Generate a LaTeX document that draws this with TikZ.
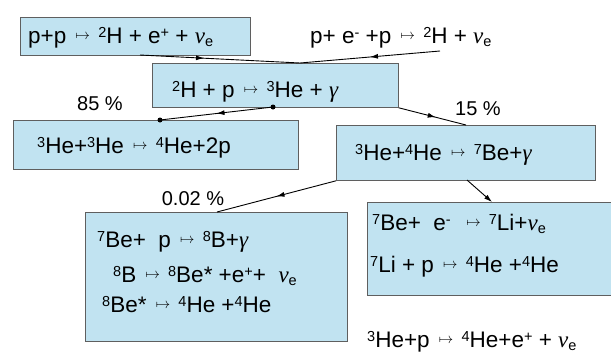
\documentclass[tikz,border=0pt]{standalone}
\usepackage{fontspec}
\setmainfont{Liberation Sans}
\newfontfamily\grk{Liberation Serif}
\usetikzlibrary{decorations.markings,arrows.meta}
\definecolor{boxfill}{RGB}{193,227,241}
\definecolor{boxline}{RGB}{95,95,95}
\newcommand{\us}[1]{\raisebox{5.5pt}{\fontsize{14.5}{15}\selectfont #1}}
\newcommand{\ds}[1]{\raisebox{-3pt}{\fontsize{14.5}{15}\selectfont #1}}
\newcommand{\nue}{{\grk\itshape\fontsize{23}{25}\selectfont ν}\ds{e}}
\newcommand{\gam}{{\grk\itshape\fontsize{23}{25}\selectfont γ}}
\newcommand{\mt}{\hspace{3pt}\raisebox{3.5pt}{$\scriptstyle\mapsto$}\hspace{2pt}}
\begin{document}
\begin{tikzpicture}[x=1pt,y=-1pt,
  font=\fontsize{22.5}{26}\selectfont,
  box/.style={draw=boxline, fill=boxfill, line width=0.8pt, inner sep=0, anchor=north west},
  txt/.style={anchor=base west, inner sep=0},
  lab/.style={anchor=base, inner sep=0, font=\fontsize{20}{22}\selectfont},
  conn/.style={line width=0.9pt},
  midarrow/.style={postaction={decorate}, decoration={markings, mark=at position #1 with {\arrow{Latex[length=8pt,width=5pt]}}}},
  dot/.style={circle, fill=black, inner sep=0, minimum size=5pt}]
\useasboundingbox (0,0) rectangle (611,354);
% boxes
\node[box, minimum width=230pt, minimum height=38pt] (box1) at (20,17) {};
\node[box, minimum width=246pt, minimum height=44pt] (box2) at (152,63) {};
\node[box, minimum width=285pt, minimum height=49pt] (box3) at (13,120) {};
\node[box, minimum width=259pt, minimum height=55pt] (box4) at (336,125) {};
\node[box, minimum width=262pt, minimum height=129pt] (box5) at (85,212) {};
\node[box, minimum width=250pt, minimum height=93pt] (box6) at (367,202) {};
% texts
\node[txt] (t1) at (28,43) {p+p \mt{} \us{2}H + e\us{+} + \nue};
\node[txt] (t2) at (310,43) {p+ e\us{-} +p \mt{} \us{2}H + \nue};
\node[txt] (t3) at (172,97) {\us{2}H + p \mt{} \us{3}He + \gam};
\node[txt] (t4) at (37,153) {\us{3}He+\us{3}He \mt{} \us{4}He+2p};
\node[txt] (t5) at (355,160) {\us{3}He+\us{4}He \mt{} \us{7}Be+\gam};
\node[txt] (t6) at (97,247) {\us{7}Be+\ \ p \mt{} \us{8}B+\gam};
\node[txt] (t7) at (113,282) {\us{8}B \mt{} \us{8}Be* +e\us{+}+\ \ \nue};
\node[txt] (t8) at (102,312) {\us{8}Be* \mt{} \us{4}He +\us{4}He};
\node[txt] (t9) at (372,230) {\us{7}Be+\ \ e\us{-} \ \mt{} \us{7}Li+\nue};
\node[txt] (t10) at (370,272) {\us{7}Li + p \mt{} \us{4}He +\us{4}He};
\node[txt] (t11) at (367,347) {\us{3}He+p \mt{} \us{4}He+e\us{+} + \nue};
% labels
\node[lab] (l85) at (100,110) {85 \%};
\node[lab] (l15) at (478,115) {15 \%};
\node[lab] (l002) at (193,205) {0.02 \%};
% connector points
\coordinate (a1) at (140,55);
\coordinate (a2) at (440,51);
\coordinate (j) at (300,63);
\node[dot] (d1) at (273,107) {};
\node[dot] (d2) at (160,120) {};
\coordinate (c1) at (466,125);
\coordinate (e1) at (217,212);
\coordinate (f0) at (467,180);
\coordinate (f1) at (492,202);
% connectors
\draw[conn, midarrow=0.4] (a1) -- (j);
\draw[conn, midarrow=0.5] (a2) -- (j);
\draw[conn, midarrow=0.5] (d1.center) -- (d2.center);
\draw[conn, midarrow=0.55] (box2.south east) -- (c1);
\draw[conn, midarrow=0.5] (box4.south west) -- (e1);
\draw[conn, -{Latex[length=8pt,width=5pt]}] (f0) -- (f1);
\end{tikzpicture}
\end{document}
